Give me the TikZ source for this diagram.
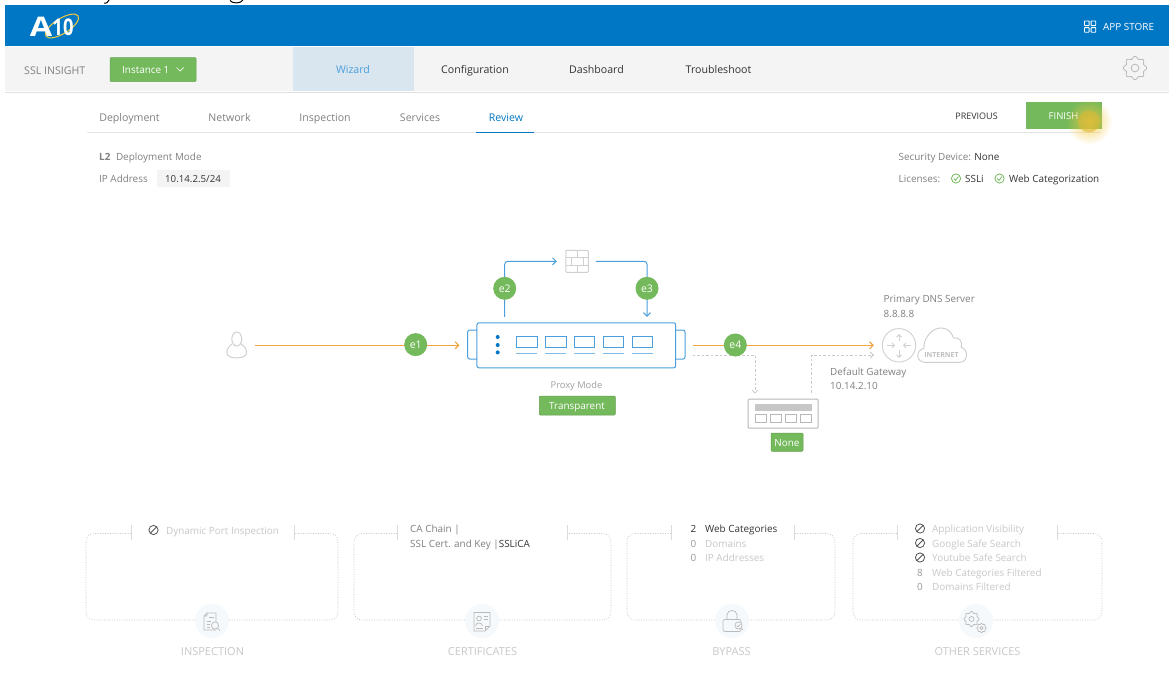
\documentclass[tikz,border=0pt]{standalone}
\usepackage{fontspec}
\setmainfont{Open Sans}
\usetikzlibrary{arrows.meta,fadings}
\definecolor{abar}{HTML}{0077C5}
\definecolor{agreen}{HTML}{74B95C}
\definecolor{agray}{HTML}{F4F4F4}
\definecolor{atab}{HTML}{D9E5EF}
\definecolor{atxt}{HTML}{808080}
\definecolor{adark}{HTML}{333333}
\definecolor{alight}{HTML}{C8C8C8}
\definecolor{amid}{HTML}{999999}
\definecolor{ablue}{HTML}{4A9FDC}
\definecolor{aorange}{HTML}{F2A444}
\definecolor{aicon}{HTML}{D0D0D0}
\definecolor{ahalo}{HTML}{F5F9FC}
\definecolor{aglow}{HTML}{F6CB3C}
\tikzfading[name=halofade,inner color=transparent!0,outer color=transparent!100]
\pgfdeclarelayer{edges}
\pgfsetlayers{edges,main}
\tikzset{
 x=1pt,y=-1pt,
 tx/.style={inner sep=0pt,anchor=base west,text=atxt,font=\fontsize{9.9}{12}\selectfont},
 txc/.style={tx,anchor=base},
 tabtx/.style={txc,font=\fontsize{10.6}{12}\selectfont},
 dim/.style={tx,text=alight},
 dk/.style={tx,text=adark},
 captx/.style={txc,text=alight,font=\fontsize{11}{13}\selectfont},
 eport/.style={circle,fill=agreen,minimum size=23pt,inner sep=0pt,text=white,font=\fontsize{10.5}{12}\selectfont},
 gbtn/.style={fill=agreen,draw=agreen!85!black,line width=.5pt,rounded corners=1pt,inner sep=0pt},
 wlab/.style={txc,text=white},
 blu/.style={draw=ablue,line width=1pt},
 flow/.style={line width=1pt,-{Straight Barb[length=3.5pt,width=7pt]}},
 dashg/.style={draw=alight,line width=.8pt,dash pattern=on 2.5pt off 2pt},
 dasharrow/.style={dashg,-{Straight Barb[length=3pt,width=6pt]}},
 panelbox/.style={draw=black!22,line width=.6pt,dash pattern=on 1pt off 1.5pt,rounded corners=8pt},
 tickline/.style={draw=black!14,line width=.8pt},
 noicon/.style={draw=black!68,line width=.8pt},
 halo/.style={circle,fill=ahalo,minimum size=34pt,inner sep=0pt},
 icon/.style={draw=black!27,line width=.7pt},
 devline/.style={draw=aicon,line width=1pt},
}
\newcommand{\noglyph}[2]{\draw[noicon] (#1,#2) circle (4.6pt); \draw[noicon] (#1-3.2,#2+3.2) -- (#1+3.2,#2-3.2);}
\newcommand{\okglyph}[2]{\draw[draw=agreen,line width=.8pt] (#1,#2) circle (4.6pt); \draw[draw=agreen,line width=.8pt] (#1-2.2,#2) -- (#1-.5,#2+1.9) -- (#1+2.4,#2-1.9);}
\newcommand{\gearshape}[4]{\draw[#4] plot[smooth cycle,tension=.5,domain=0:352.5,samples=48,variable=\a] ({#1+#3*(1+.12*cos(8*\a))*cos(\a)},{#2+#3*(1+.12*cos(8*\a))*sin(\a)}); \draw[#4] (#1,#2) circle ({#3*.37});}
\newcommand{\panelframe}[4]{\draw[panelbox] (#3,533.5) -- (#1,533.5) -- (#1,620) -- (#2,620) -- (#2,533.5) -- (#4,533.5); \draw[tickline] (#3,525) -- (#3,540) (#4,525) -- (#4,540);}
\begin{document}
\begin{tikzpicture}
\useasboundingbox (0,0) rectangle (1174,672);
\begin{pgfonlayer}{edges}
\fill[white] (0,0) rectangle (1174,672);
\end{pgfonlayer}
% fragments of a cut-off line above the bar
\draw[black,line width=1pt] (109,0) .. controls (108,3) and (106,3.6) .. (104,3.2);
\draw[black,line width=1pt] (230,0.5) .. controls (232,3.8) and (241,3.8) .. (243,0);
% bars
\fill[abar] (5,5) rectangle (1169,46);
\fill[agray] (5,47) rectangle (1169,91);
\draw[black!12,line width=.8pt] (5,92) -- (1169,92);
\fill[atab] (293,47) rectangle (414,91);
% logo
\draw[draw=aglow,line width=1pt,rotate around={32:(62,26)}] (62,26) ellipse (19pt and 7.5pt);
\node[inner sep=0pt,anchor=base,text=white,xscale=1.2,font=\fontsize{27}{27}\selectfont\bfseries] (logoa) at (41,36) {A};
\node[inner sep=0pt,anchor=base,text=white,xscale=.8,font=\fontsize{23}{23}\selectfont\bfseries] (logob) at (63,35.5) {10};
% header
\node[tx,text=white] (appstore) at (1103,30) {APP STORE};
\foreach \i/\j in {0/0,1/0,0/1,1/1}{\draw[white,line width=.9pt,rounded corners=.5pt] (1084.5+6.6*\i,21+6.6*\j) rectangle +(4.6,4.6);}
\node[tx,font=\fontsize{10.6}{12}\selectfont] (ssl) at (24,74) {SSL INSIGHT};
\fill[agreen,draw=agreen!90!black,line width=.5pt,rounded corners=1pt] (110,57.5) rectangle (196,81.5);
\node[tx,text=white] (inst) at (122,73.5) {Instance 1};
\draw[white,line width=.7pt] (176.5,67.5) -- (180,71) -- (183.5,67.5);
\node[tabtx,text=ablue] (wiz) at (353,73) {Wizard};
\node[tabtx,text=adark] (conf) at (475,73) {Configuration};
\node[tabtx,text=adark] (dash) at (596.5,73) {Dashboard};
\node[tabtx,text=adark] (trb) at (718.5,73) {Troubleshoot};
\gearshape{1135}{68}{10.5}{draw=black!28,line width=.8pt}
% sub tabs
\draw[black!10,line width=.8pt] (87,132.5) -- (1101,132.5);
\draw[abar,line width=1.2pt] (476,132.5) -- (534,132.5);
\foreach \t/\x/\n in {Deployment/129.5/s1,Network/229.5/s2,Inspection/325/s3,Services/420/s4}{\node[tabtx] (\n) at (\x,121) {\t};}
\node[tabtx,text=abar] (s5) at (506,121) {Review};
\node[txc,text=adark,font=\fontsize{9}{11}\selectfont] (prev) at (976.5,119) {PREVIOUS};
% finish
\fill[agreen] (1026,102) rectangle (1102,128.5);
\node[txc,text=white,font=\fontsize{9.5}{11}\selectfont] (fin) at (1063.5,119) {FINISH};
\fill[aglow,path fading=halofade,opacity=.8] (1089,121.5) circle (23pt);
\fill[aglow!90!black,opacity=.55] (1089,121.5) circle (11pt);
% info
\node[tx] (l2) at (99,160) {\textbf{L2}\hspace{3pt} Deployment Mode};
\node[tx] (ip) at (99,182) {IP Address};
\fill[agray] (157,170) rectangle (229.5,187);
\node[txc,text=adark,font=\fontsize{9.7}{11}\selectfont] (ipv) at (193,182) {10.14.2.5/24};
\node[tx] (sec) at (898.5,160) {Security Device: \textcolor{adark}{None}};
\node[tx] (lic) at (898.5,182) {Licenses:};
\okglyph{956}{178.5}
\node[dk] (ssli) at (965,182) {SSLi};
\okglyph{999.5}{178.5}
\node[dk] (webc) at (1009,182) {Web Categorization};
% user
\node[minimum width=20pt,minimum height=27pt,inner sep=0pt] (user) at (236.8,345.3) {};
\draw[devline] (236.8,339) ellipse (5pt and 7pt);
\draw[devline,rounded corners=4pt] (232,344) -- (227,348) -- (226.5,356) -- (236.5,358.5) -- (247,356) -- (246.5,348) -- (241,344);
% appliance
\draw[blu,rounded corners=2pt] (477,330) -- (467.7,330) -- (467.7,359) -- (477,359);
\draw[blu,rounded corners=2pt] (675.7,330) -- (685,330) -- (685,359) -- (675.7,359);
\node[blu,rounded corners=2pt,minimum width=198.7pt,minimum height=45pt,inner sep=0pt] (appl) at (576.3,345.3) {};
\foreach \y in {337,345,352.4}{\fill[abar] (497.7,\y) circle (2pt);}
\foreach \x in {516.3,545.2,574.1,603,632}{
 \draw[blu] (\x,336.7) rectangle +(20.8,11);
 \draw[draw=ablue!70,line width=1pt] (\x,353.7) -- +(20.8,0);
}
% firewall
\node[devline,rounded corners=.8pt,minimum width=22.5pt,minimum height=22pt,inner sep=0pt] (fw) at (577,261.3) {};
\begin{scope}[devline]
\draw (565.8,257.8) -- (588.2,257.8) (565.8,265) -- (588.2,265);
\draw (577,250.3) -- (577,257.8) (571,257.8) -- (571,265) (583.5,257.8) -- (583.5,265) (577,265) -- (577,272.3);
\end{scope}
% router
\node[draw=aicon,line width=.9pt,circle,minimum size=33.4pt,inner sep=0pt] (rtr) at (899,345.3) {};
\begin{scope}[draw=aicon,line width=.9pt,-{Straight Barb[length=2.5pt,width=5pt]}]
\draw (899,341) -- (899,334);
\draw (899,350) -- (899,358);
\draw (887,345.3) -- (895,345.3);
\draw (911,345.3) -- (903,345.3);
\end{scope}
% cloud
\draw[draw=black!20,line width=.9pt] (925,362.3) .. controls (916,362) and (915,351) .. (924,348) .. controls (923,338) and (933,327) .. (942,328) .. controls (948,328.5) and (952,333) .. (953.5,338) .. controls (960,336.5) and (963,343) .. (961,347) .. controls (969,350) and (968,362) .. (960,362.3) -- cycle;
\node[txc,text=black!25,font=\fontsize{7}{8}\selectfont\bfseries] (inet) at (941.5,357.5) {INTERNET};
\node[tx] (dns) at (883.5,302.7) {Primary DNS Server};
\node[tx] (dnsv) at (883.5,317.3) {8.8.8.8};
\node[tx] (gwl) at (830,375) {Default Gateway};
\node[tx] (gwv) at (830,389.5) {10.14.2.10};
% gateway device
\node[draw=black!28,line width=1pt,rounded corners=1pt,minimum width=70pt,minimum height=29pt,inner sep=0pt] (gwd) at (783,413.7) {};
\fill[black!22] (755,404) rectangle (812,410.5);
\foreach \x in {755,770,785,800}{\draw[draw=black!28,line width=.8pt] (\x,414.5) rectangle +(11.5,8);}
\draw[gbtn] (771,433) rectangle (803,451.3);
\node[wlab] (none) at (787,446) {None};
% proxy mode
\node[txc,text=atxt!75!white,font=\fontsize{9.3}{11}\selectfont] (pm) at (576.5,388) {Proxy Mode};
\draw[gbtn] (539.3,396) rectangle (615.3,415);
\node[wlab] (trn) at (577,409.5) {Transparent};
% port badges
\node[eport] (e1) at (415.7,344.6) {e1};
\node[eport] (e2) at (504.7,288.3) {e2};
\node[eport] (e3) at (647,288.3) {e3};
\node[eport] (e4) at (735.3,345) {e4};
% connectors, behind the badges
\begin{pgfonlayer}{edges}
\draw[flow,aorange,line width=1.15pt,shorten <=8pt,shorten >=17pt] (user.east) -- (appl.west);
\draw[flow,aorange,line width=1.15pt,shorten <=17pt,shorten >=8pt] (appl.east) -- (rtr.west);
\draw[flow,ablue,rounded corners=3pt,shorten <=5.5pt,shorten >=8.5pt] (e2 |- appl.north) |- (fw.west);
\draw[flow,ablue,rounded corners=3pt,shorten <=7pt,shorten >=5.5pt] (fw.east) -| (e3 |- appl.north);
\draw[dasharrow,shorten <=16.5pt,shorten >=5pt] ([yshift=-9.7pt]appl.east) -| ([xshift=-28pt]gwd.north);
\draw[dasharrow,shorten <=6pt,shorten >=8pt] ([xshift=28.5pt]gwd.north) |- ([yshift=-9.7pt]rtr.west);
\end{pgfonlayer}
% panels
\panelframe{86}{338}{131}{294}
\panelframe{354}{611}{397}{567}
\panelframe{627}{835}{671}{794}
\panelframe{853}{1102}{897}{1057}
\node[halo] (h1) at (212,621) {};
\node[halo] (h2) at (482,621) {};
\node[halo] (h3) at (732,621) {};
\node[halo] (h4) at (976,621) {};
% panel 1
\noglyph{153.5}{530}
\node[dim] (p1a) at (166,534) {Dynamic Port Inspection};
% panel 2
\node[tx] (p2a) at (410,532.5) {CA Chain |};
\node[tx] (p2b) at (410,547) {SSL Cert. and Key |\textcolor{adark}{SSLiCA}};
% panel 3
\node[txc,text=adark] (p3n1) at (693.5,532.5) {2};
\node[dk] (p3a) at (705,532.5) {Web Categories};
\node[txc,text=amid] (p3n2) at (693.5,547) {0};
\node[dim] (p3b) at (705,547) {Domains};
\node[txc,text=amid] (p3n3) at (693.5,561) {0};
\node[dim] (p3c) at (705,561) {IP Addresses};
% panel 4
\noglyph{920}{528.5}
\node[dim] (p4a) at (932,532.5) {Application Visibility};
\noglyph{920}{543}
\node[dim] (p4b) at (932,547) {Google Safe Search};
\noglyph{920}{557.5}
\node[dim] (p4c) at (932,561.5) {Youtube Safe Search};
\node[txc,text=amid] (p4n1) at (920,576) {8};
\node[dim] (p4d) at (932,576) {Web Categories Filtered};
\node[txc,text=amid] (p4n2) at (920,590.5) {0};
\node[dim] (p4e) at (932,590.5) {Domains Filtered};
% captions
\node[captx] (c1) at (212.5,655) {INSPECTION};
\node[captx] (c2) at (482.5,655) {CERTIFICATES};
\node[captx] (c3) at (731.5,655) {BYPASS};
\node[captx] (c4) at (977.5,655) {OTHER SERVICES};
% inspection icon
\draw[icon] (207,613) -- (216,613) -- (216,622) (216,630) -- (204,630) -- (204,616) -- (207,613) -- (207,616) -- (204,616);
\draw[icon] (209,617) -- (214,617) (206.5,621) -- (211,621) (206.5,624) -- (210,624) (206.5,627) -- (210,627);
\draw[icon] (215,625.5) circle (3.6pt);
\draw[icon] (217.6,628.2) -- (220,630.5);
% certificate icon
\draw[icon] (474,612.5) -- (490,612.5) -- (490,626) -- (485,631) -- (474,631) -- cycle;
\draw[icon] (485,631) -- (485,626) -- (490,626);
\draw[icon] (479,618.5) circle (2.4pt);
\draw[icon] (475.5,626) .. controls (476,622) and (482,622) .. (482.5,626);
\draw[icon] (484,616) -- (488,616) (484,619) -- (488,619) (476,628.5) -- (483,628.5);
% lock icon
\draw[icon,rounded corners=2pt] (723,619.5) rectangle (741,631.5);
\draw[icon] (727,619.5) -- (727,615) .. controls (727,609) and (737,609) .. (737,615) -- (737,619.5);
\draw[icon,fill=ahalo] (738.5,625.5) circle (3.6pt);
\draw[icon] (736.8,625.5) -- (738,627) -- (740.4,624.2) (741.3,628.2) -- (743,630);
% gears icon
\gearshape{971.5}{619}{6.8}{icon}
\gearshape{981.5}{628}{4.2}{icon}
\end{tikzpicture}
\end{document}
